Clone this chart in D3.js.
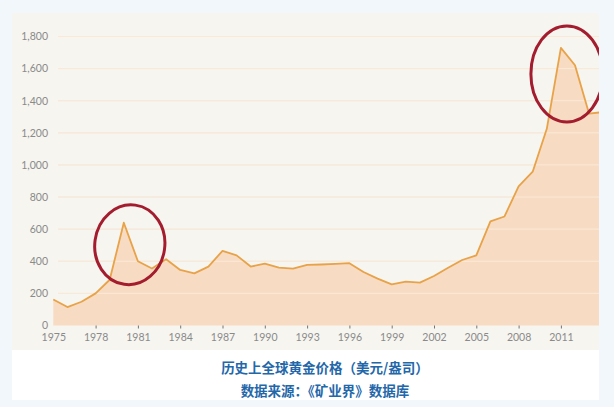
<!DOCTYPE html>
<html><head><meta charset="utf-8">
<script src="https://cdn.jsdelivr.net/npm/d3@7/dist/d3.min.js"></script>
<style>html,body{margin:0;padding:0;background:#f2f7fc;}svg{display:block;}</style>
</head><body>
<script>
const years = [1975,1976,1977,1978,1979,1980,1981,1982,1983,1984,1985,1986,1987,1988,1989,1990,1991,1992,1993,1994,1995,1996,1997,1998,1999,2000,2001,2002,2003,2004,2005,2006,2007,2008,2009,2010,2011,2012,2013,2014];
const prices = [162,115,148,200,285,640,400,355,413,346,325,367,465,437,367,385,360,354,377,380,384,388,333,292,256,273,267,308,360,408,437,648,679,867,958,1225,1729,1621,1319,1330];
const yTicks = [0,200,400,600,800,1000,1200,1400,1600,1800];
const xTicks = [1975,1978,1981,1984,1987,1990,1993,1996,1999,2002,2005,2008,2011];
const highlightYears = [1980, 2011];
const captionLines = ["历史上全球黄金价格（美元/盎司）","数据来源：《矿业界》数据库"];

const W = 614, H = 407;
const svg = d3.select("body").append("svg").attr("width", W).attr("height", H);
svg.append("rect").attr("width", W).attr("height", H).attr("fill", "#f2f7fc");

const panel = {x: 12, y: 13, w: 587, h: 337};
svg.append("rect").attr("x", panel.x).attr("y", panel.y).attr("width", panel.w).attr("height", panel.h).attr("fill", "#f6f5f0");
svg.append("rect").attr("x", panel.x).attr("y", 350).attr("width", panel.w).attr("height", 50).attr("fill", "#ffffff");

const x = d3.scaleLinear().domain([1975, 2014]).range([53.3, 53.3 + 39 * 14.1]);
const y = d3.scaleLinear().domain([0, 1800]).range([325.5, 36.5]);

svg.append("defs").append("clipPath").attr("id", "clip")
  .append("rect").attr("x", panel.x).attr("y", panel.y).attr("width", 599 - panel.x).attr("height", panel.h);

// grid under
const grid = svg.append("g");
grid.selectAll("line").data(yTicks.filter(d => d > 0)).join("line")
  .attr("x1", 58).attr("x2", 599).attr("y1", d => y(d)).attr("y2", d => y(d))
  .attr("stroke", "#ebe8e1").attr("stroke-width", 1);

const data = years.map((yr, i) => ({yr, v: prices[i]}));
const plot = svg.append("g").attr("clip-path", "url(#clip)");
plot.append("path").datum(data)
  .attr("d", d3.area().x(d => x(d.yr)).y0(y(0)).y1(d => y(d.v)))
  .attr("fill", "#f7dcc3");
// grid over area (light)
plot.selectAll("line.g2").data(yTicks.filter(d => d > 0)).join("line").attr("class","g2")
  .attr("x1", 58).attr("x2", 599).attr("y1", d => y(d)).attr("y2", d => y(d))
  .attr("stroke", "#fbe9d8").attr("stroke-width", 1);
plot.append("path").datum(data)
  .attr("d", d3.line().x(d => x(d.yr)).y(d => y(d.v)))
  .attr("fill", "none").attr("stroke", "#e8a248").attr("stroke-width", 1.8).attr("stroke-linejoin", "round");

// axes
const ax = svg.append("g").attr("transform", `translate(0,${y(0)})`)
  .call(d3.axisBottom(x).tickValues(xTicks).tickFormat(d3.format("d")).tickSize(3).tickPadding(5));
ax.select(".domain").remove();
ax.selectAll(".tick line").attr("stroke", "#555").attr("opacity", d => d === 1975 ? 0 : 0.8);
ax.selectAll(".tick text").attr("fill", "#8a8a8a").style("font-family", "Lato, 'Open Sans', sans-serif").style("font-size", "10.5px");

const ay = svg.append("g").attr("transform", "translate(48,0)")
  .call(d3.axisLeft(y).tickValues(yTicks).tickFormat(d3.format(",")).tickSize(0).tickPadding(0));
ay.select(".domain").remove();
ay.selectAll(".tick text").attr("fill", "#8a8a8a").style("font-family", "Lato, 'Open Sans', sans-serif").style("font-size", "10.5px");

// highlight ellipses
const ell = svg.append("g").attr("clip-path", "url(#clip)");
const ellSpec = [{rx: 35, ry: 40, dx: 6, dy: 22, rot: 8}, {rx: 36, ry: 48, dx: 6, dy: 26, rot: 0}];
highlightYears.forEach((yr, i) => {
  const cx = x(yr) + ellSpec[i].dx;
  const cy = y(prices[years.indexOf(yr)]) + ellSpec[i].dy;
  ell.append("ellipse").attr("cx", cx).attr("cy", cy).attr("rx", ellSpec[i].rx).attr("ry", ellSpec[i].ry)
    .attr("transform", `rotate(${ellSpec[i].rot},${cx},${cy})`)
    .attr("fill", "none").attr("stroke", "#a31d2e").attr("stroke-width", 3);
});

// caption
svg.selectAll("text.cap").data(captionLines).join("text").attr("class", "cap")
  .attr("x", 325).attr("y", (d, i) => 373 + i * 23)
  .attr("text-anchor", "middle")
  .attr("fill", "#2467a9")
  .style("font-family", "'Noto Sans CJK SC', sans-serif").style("font-weight", "bold").style("font-size", "13.5px")
  .text(d => d);
</script>
</body></html>
